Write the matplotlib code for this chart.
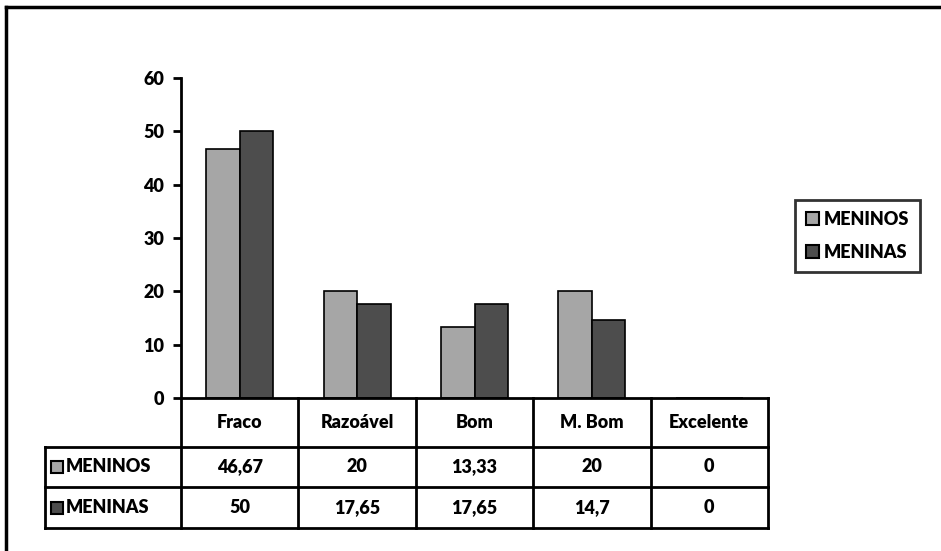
import matplotlib
matplotlib.use("Agg")
import matplotlib.pyplot as plt
from matplotlib.patches import Rectangle
from matplotlib.lines import Line2D
from matplotlib.transforms import blended_transform_factory

categories = ["Fraco", "Razoável", "Bom", "M. Bom", "Excelente"]
series_names = ["MENINOS", "MENINAS"]
meninos = [46.67, 20, 13.33, 20, 0]
meninas = [50, 17.65, 17.65, 14.7, 0]
colors = ["#a6a6a6", "#4d4d4d"]

W, H = 941, 551
plt.rcParams["font.family"] = ["Lato", "DejaVu Sans"]
plt.rcParams["font.weight"] = "heavy"
FS = 13


def fx(x):
    return x / W


def fy(y):
    return 1 - y / H


fig = plt.figure(figsize=(W / 100, H / 100), dpi=100)

# plot area
left, right, top, bottom = 181, 768, 78, 398
ax = fig.add_axes([fx(left), fy(bottom), fx(right - left), (bottom - top) / H])
n = len(categories)
x = list(range(n))
bw = 0.285
ax.bar([i - bw / 2 for i in x], meninos, width=bw, color=colors[0], edgecolor="black", linewidth=1.2, zorder=2)
ax.bar([i + bw / 2 for i in x], meninas, width=bw, color=colors[1], edgecolor="black", linewidth=1.2, zorder=2)
ax.set_xlim(-0.5, n - 0.5)
ax.set_ylim(0, 60)
ax.set_yticks(range(0, 61, 10))
ax.set_xticks([])
for s in ["top", "right"]:
    ax.spines[s].set_visible(False)
ax.spines["left"].set_linewidth(2)
ax.spines["bottom"].set_linewidth(2)
ax.tick_params(axis="y", direction="out", length=6, width=2, labelsize=FS, pad=6)
for lab in ax.get_yticklabels():
    lab.set_fontweight("heavy")

# data table under the axis
tr = blended_transform_factory(ax.transData, fig.transFigure)
row_y = [398, 447, 487, 528]
lab_left = 45
lw = 2
for y in row_y[1:]:
    fig.add_artist(Line2D([fx(lab_left), fx(right)], [fy(y), fy(y)], color="black", lw=lw))
for i in range(n + 1):
    fig.add_artist(Line2D([i - 0.5, i - 0.5], [fy(row_y[0]), fy(row_y[-1])], color="black", lw=lw, transform=tr))
fig.add_artist(Line2D([fx(lab_left), fx(lab_left)], [fy(row_y[1]), fy(row_y[-1])], color="black", lw=lw))

for i, cat in enumerate(categories):
    ymid = (row_y[0] + row_y[1]) / 2
    fig.text(i, fy(ymid), cat, transform=tr, ha="center", va="center", fontsize=FS, fontweight="heavy")
for r, vals in enumerate([meninos, meninas]):
    ymid = (row_y[r + 1] + row_y[r + 2]) / 2
    for i, v in enumerate(vals):
        fig.text(i, fy(ymid), f"{v:g}".replace(".", ","), transform=tr, ha="center", va="center",
                 fontsize=FS, fontweight="heavy")
    fig.add_artist(Rectangle((fx(51), fy(ymid + 6)), fx(12), 12 / H, facecolor=colors[r],
                             edgecolor="black", lw=1.5))
    fig.text(fx(66), fy(ymid), series_names[r], ha="left", va="center", fontsize=FS, fontweight="heavy")

# legend
handles = [Rectangle((0, 0), 1, 1, facecolor=c, edgecolor="black", lw=1.5) for c in colors]
leg = fig.legend(handles, series_names, loc="upper left", bbox_to_anchor=(fx(795), fy(200)),
                 frameon=True, fancybox=False, handlelength=0.75, handleheight=0.75,
                 handletextpad=0.25, labelspacing=0.9, borderpad=0.6, borderaxespad=0,
                 prop={"size": FS, "weight": "heavy"})
leg.get_frame().set_edgecolor("black")
leg.get_frame().set_linewidth(2)

# outer frame
fig.add_artist(Line2D([fx(6), fx(W)], [fy(7), fy(7)], color="black", lw=2.5))
fig.add_artist(Line2D([fx(6), fx(6)], [fy(7), 0], color="black", lw=2.5))

fig.savefig("out.png", dpi=100)
